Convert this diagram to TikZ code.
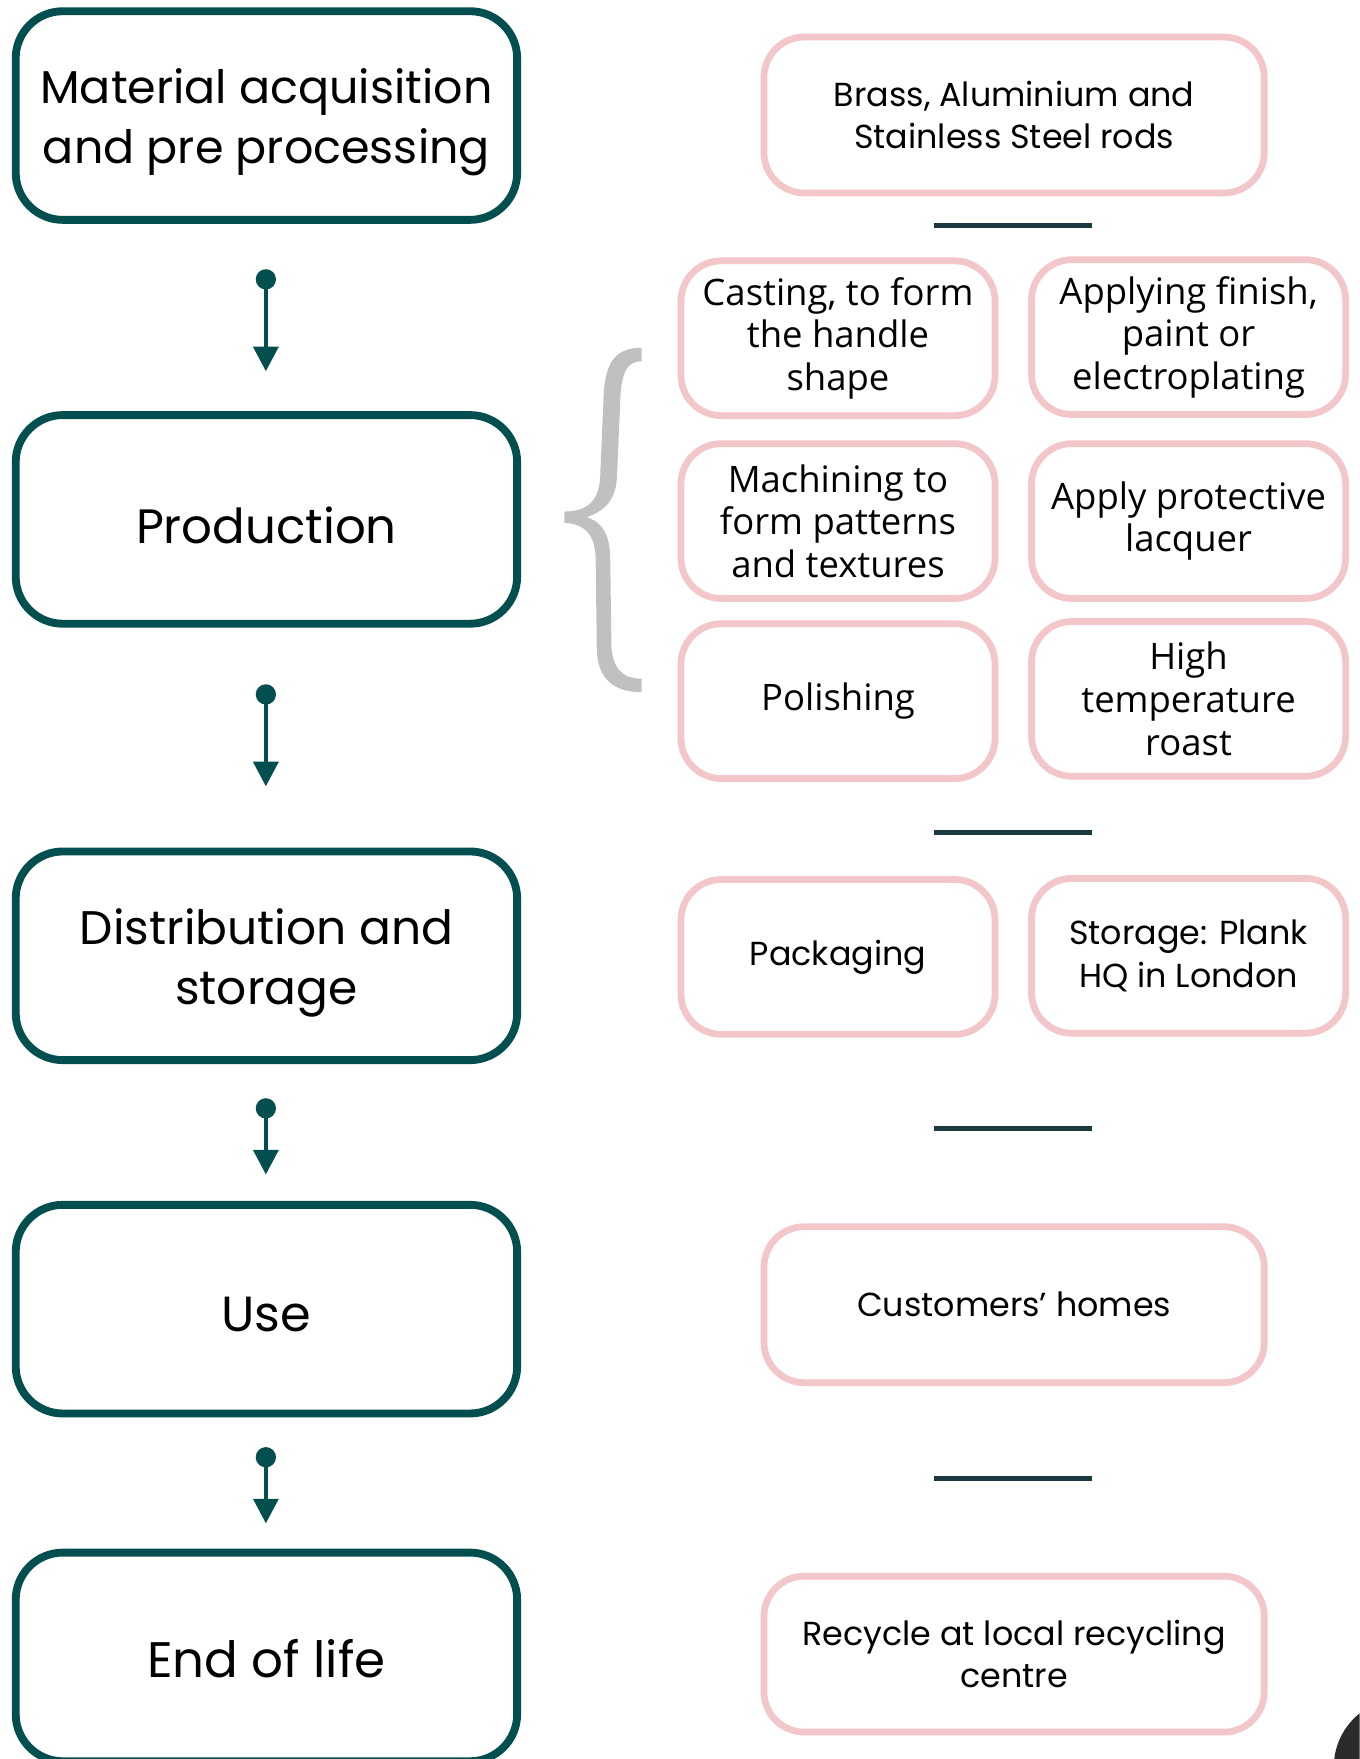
\documentclass[tikz,border=0pt]{standalone}
\usepackage{fontspec}
\setmainfont{Poppins}
\newfontfamily\gridfont{Open Sans}
\usetikzlibrary{arrows.meta}
\definecolor{teal}{RGB}{3,79,79}
\definecolor{pinkb}{RGB}{243,198,202}
\definecolor{barc}{RGB}{26,58,63}
\definecolor{bracec}{RGB}{192,192,192}
\definecolor{blob}{RGB}{43,43,43}
\tikzset{
  stage/.style={draw=teal, line width=7pt, rounded corners=42pt, minimum width=447pt, minimum height=186pt, inner sep=0pt},
  stagetxt/.style={align=center, inner sep=0pt, yshift=-5pt, font=\fontsize{43}{54}\selectfont},
  wide/.style={draw=pinkb, line width=6pt, rounded corners=36pt, minimum width=446pt, minimum height=139pt, inner sep=0pt, align=center, font=\fontsize{29.7}{38}\selectfont},
  cell/.style={draw=pinkb, line width=6pt, rounded corners=36pt, minimum width=280pt, minimum height=138pt, inner sep=0pt, align=center, font=\gridfont\fontsize{32.5}{38}\selectfont},
  cellp/.style={cell, font=\fontsize{29.7}{38}\selectfont},
  flow/.style={draw=teal, fill=teal, line width=4pt, {Circle[length=18pt]}-{Triangle[length=22pt,width=22pt]}},
  bar/.style={draw=barc, line width=4pt},
}
\begin{document}
\begin{tikzpicture}[x=1pt,y=-1pt]
\clip (0,0) rectangle (1212,1568);
\fill[white] (0,0) rectangle (1212,1568);
% left column
\node[stage, label={[stagetxt, yshift=-1pt, font=\fontsize{41}{54}\selectfont]center:{Material acquisition\\and pre processing}}] (s1) at (237.5,103) {};
\node[stage, label={[stagetxt, font=\fontsize{43}{54}\selectfont]center:Production}] (s2) at (237.5,463) {};
\node[stage, label={[stagetxt, yshift=-1.5pt, font=\fontsize{42}{54}\selectfont]center:{Distribution and\\storage}}] (s3) at (237.5,852) {};
\node[stage, label={[stagetxt, font=\fontsize{44}{54}\selectfont]center:Use}] (s4) at (237.5,1167) {};
\node[stage, label={[stagetxt, yshift=3.5pt, font=\fontsize{44.5}{54}\selectfont]center:End of life}] (s5) at (237.5,1477) {};
% arrows
\coordinate (a1s) at (237,240); \coordinate (a1e) at (237,331);
\coordinate (a2s) at (237,610); \coordinate (a2e) at (237,701);
\coordinate (a3s) at (237,979); \coordinate (a3e) at (237,1047);
\coordinate (a4s) at (237,1290); \coordinate (a4e) at (237,1358);
\draw[flow] (a1s) -- (a1e);
\draw[flow] (a2s) -- (a2e);
\draw[flow] (a3s) -- (a3e);
\draw[flow] (a4s) -- (a4e);
% right column
\node[wide] (r1) at (904,102.5) {Brass, Aluminium and\\Stainless Steel rods};
\node[cell] (p1) at (747,301.5) {Casting, to form\\the handle\\shape};
\node[cell] (p2) at (1059.5,300.5) {Applying finish,\\paint or\\electroplating};
\node[cell] (p3) at (747,464.5) {Machining to\\form patterns\\and textures};
\node[cell] (p4) at (1059.5,464.5) {Apply protective\\lacquer};
\node[cell] (p5) at (747,625) {Polishing};
\node[cell] (p6) at (1059.5,623) {High\\temperature\\roast};
\node[cellp] (d1) at (747,853) {Packaging};
\node[cellp] (d2) at (1059.5,852) {Storage: Plank\\HQ in London};
\node[wide] (u1) at (904,1163) {Customers’ homes};
\node[wide] (e1) at (904,1474.5) {Recycle at local recycling\\centre};
% bars
\coordinate (b1l) at (833,201); \coordinate (b1r) at (973,201);
\coordinate (b2l) at (833,742); \coordinate (b2r) at (973,742);
\coordinate (b3l) at (833,1006); \coordinate (b3r) at (973,1006);
\coordinate (b4l) at (833,1318); \coordinate (b4r) at (973,1318);
\draw[bar] (b1l) -- (b1r);
\draw[bar] (b2l) -- (b2r);
\draw[bar] (b3l) -- (b3r);
\draw[bar] (b4l) -- (b4r);
% brace
\fill[bracec] (572,310) .. controls (547,310) and (539,325) .. (538,355) -- (535,425)
  .. controls (534,448) and (522,456) .. (503,456) -- (503,466)
  .. controls (520,467) and (531,475) .. (531,500) -- (532,580)
  .. controls (533,605) and (547,617) .. (572,617) -- (572,605)
  .. controls (554,605) and (546,595) .. (545,575) -- (544,500)
  .. controls (544,478) and (538,466) .. (523,461)
  .. controls (540,455) and (549,445) .. (550,425) -- (553,355)
  .. controls (554,332) and (559,322) .. (572,322) -- cycle;
% corner blob
\fill[blob] (1250,1575) circle (61);
\end{tikzpicture}
\end{document}
